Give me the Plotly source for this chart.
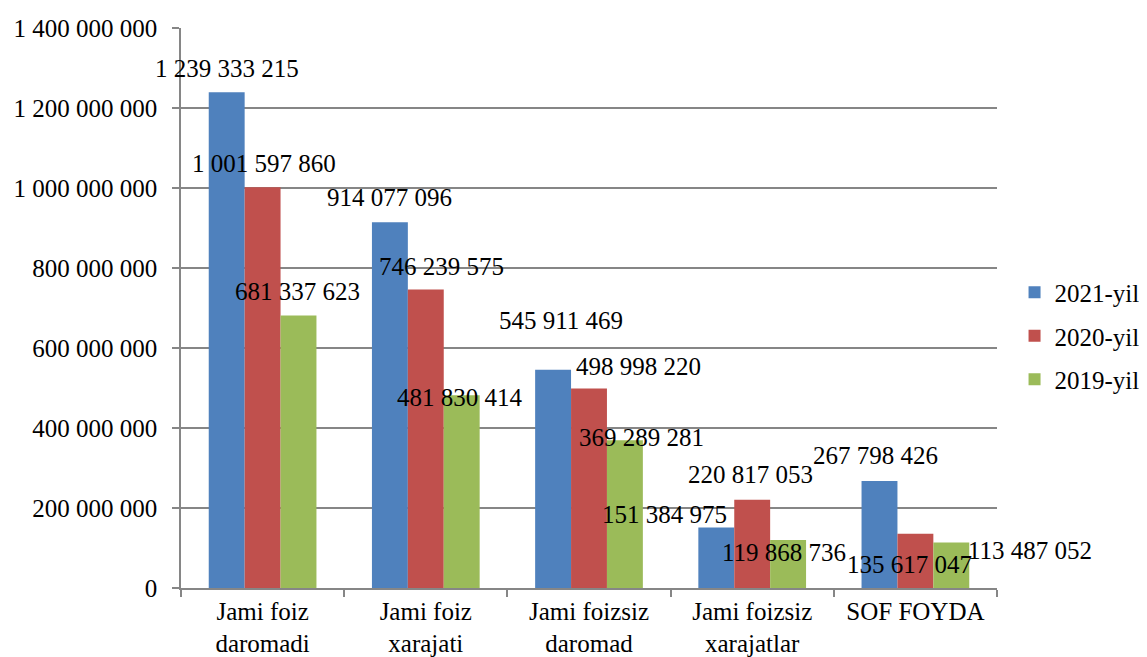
import plotly.graph_objects as go

categories = ["Jami foiz<br>daromadi", "Jami foiz<br>xarajati", "Jami foizsiz<br>daromad",
              "Jami foizsiz<br>xarajatlar", "SOF FOYDA"]
series_names = ["2021-yil", "2020-yil", "2019-yil"]
values_2021 = [1239333215, 914077096, 545911469, 151384975, 267798426]
values_2020 = [1001597860, 746239575, 498998220, 220817053, 135617047]
values_2019 = [681337623, 481830414, 369289281, 119868736, 113487052]
colors = ["#4F81BD", "#C0504D", "#9BBB59"]
y_tickvals = [0, 200000000, 400000000, 600000000, 800000000, 1000000000, 1200000000, 1400000000]
y_ticktext = ["0", "200 000 000", "400 000 000", "600 000 000", "800 000 000",
              "1 000 000 000", "1 200 000 000", "1 400 000 000"]

# label pixel offsets (dx, dy) relative to bar top centre, mimicking the reference placement
label_offsets = [
    [(0, -24), (0, -25), (8, -49), (-52, -13), (-4, -25)],
    [(1, -24), (16, -23), (49, -22), (-2, -25), (-6, 31)],
    [(-1, -24), (-2, 2), (17, -3), (-4, 12), (79, 8)],
]

FONT = "Liberation Serif, Times New Roman, serif"
FS = 25
bargap = 0.34
series = [values_2021, values_2020, values_2019]

fig = go.Figure()
for name, vals, col in zip(series_names, series, colors):
    fig.add_trace(go.Bar(x=categories, y=vals, name=name, marker=dict(color=col, line=dict(width=0)),
                         legendgroup=name))

bw = (1 - bargap) / 3
annotations = []
for si, vals in enumerate(series):
    for ci, v in enumerate(vals):
        dx, dy = label_offsets[si][ci]
        annotations.append(dict(
            x=ci + (si - 1) * bw, y=v, xref="x", yref="y",
            text=f"{v:,}".replace(",", " "), showarrow=False,
            xanchor="center", yanchor="middle", xshift=dx, yshift=-dy,
            font=dict(family=FONT, size=FS, color="black")))

# the page body adds an 8px margin at left/top, so the figure is 8px smaller
fig.update_layout(
    width=1139, height=649,
    margin=dict(l=173, r=150, t=20, b=69, autoexpand=False),
    paper_bgcolor="white", plot_bgcolor="white",
    barmode="group", bargap=bargap, bargroupgap=0,
    font=dict(family=FONT, size=FS, color="black"),
    showlegend=True,
    legend=dict(x=1.0215, y=0.45, xanchor="left", yanchor="middle",
                font=dict(family=FONT, size=FS), tracegroupgap=8,
                traceorder="grouped", itemwidth=30),
    annotations=annotations,
)
fig.update_xaxes(range=[-0.5, len(categories) - 0.5],
                 showline=True, linecolor="#868686", linewidth=1.5, ticks="outside",
                 tickson="boundaries", ticklen=7, tickcolor="#868686", tickwidth=1.5,
                 showgrid=False, tickangle=0, automargin=False,
                 tickfont=dict(family=FONT, size=FS))
fig.update_yaxes(range=[0, 1.4e9], tickvals=y_tickvals, ticktext=y_ticktext,
                 showline=True, linecolor="#868686", linewidth=1.5, ticks="outside",
                 ticklen=7, tickcolor="#868686", tickwidth=1.5, automargin=False,
                 showgrid=True, gridcolor="#868686", gridwidth=1.5, zeroline=False,
                 ticklabelstandoff=10, tickfont=dict(family=FONT, size=FS))

fig.write_html("out.html")
